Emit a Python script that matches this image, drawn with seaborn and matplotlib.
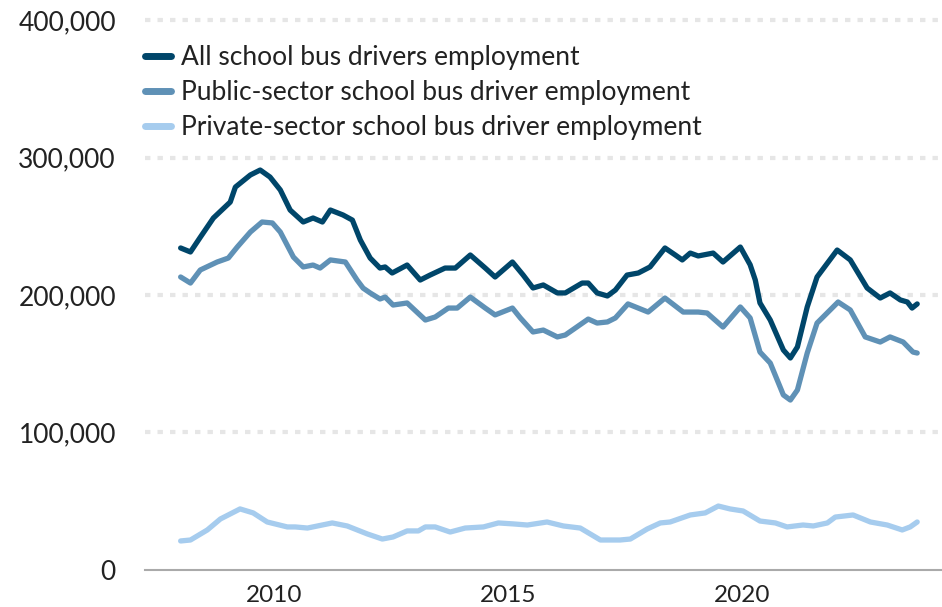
import pandas as pd
import numpy as np
import matplotlib
matplotlib.use('Agg')
import matplotlib.pyplot as plt
import seaborn as sns

# values (year as decimal, employment)
all_years = [2008.0, 2008.21, 2008.42, 2008.70, 2009.06, 2009.17, 2009.49, 2009.70, 2009.91, 2010.13,
             2010.34, 2010.62, 2010.83, 2011.03, 2011.20, 2011.47, 2011.67, 2011.84, 2012.05, 2012.26,
             2012.37, 2012.52, 2012.84, 2013.12, 2013.33, 2013.65, 2013.87, 2014.19, 2014.51, 2014.72,
             2015.09, 2015.32, 2015.53, 2015.75, 2016.05, 2016.22, 2016.58, 2016.71, 2016.90, 2017.12,
             2017.29, 2017.54, 2017.78, 2018.03, 2018.35, 2018.57, 2018.72, 2018.89, 2019.06, 2019.38,
             2019.59, 2019.96, 2020.17, 2020.28, 2020.38, 2020.60, 2020.88, 2021.03, 2021.18, 2021.39,
             2021.60, 2022.03, 2022.31, 2022.67, 2022.95, 2023.16, 2023.38, 2023.53, 2023.63, 2023.74]
all_vals = [234.2, 231.3, 242.0, 256.0, 267.6, 278.5, 287.3, 290.9, 285.8, 276.4,
            261.8, 253.1, 256.0, 253.1, 261.8, 258.2, 254.5, 240.0, 226.9, 219.6,
            220.4, 216.0, 221.8, 210.9, 214.5, 219.6, 219.6, 229.1, 219.6, 213.1,
            224.0, 214.5, 205.1, 207.3, 201.5, 201.5, 208.7, 208.7, 201.5, 199.3,
            203.6, 214.5, 216.0, 220.4, 234.2, 229.1, 225.5, 230.5, 228.4, 230.5,
            224.0, 234.9, 222.0, 210.9, 194.2, 181.8, 160.0, 154.2, 162.2, 191.3,
            213.1, 232.7, 225.5, 205.1, 197.8, 201.5, 196.4, 194.9, 190.5, 193.5]

public_years = [2008.0, 2008.21, 2008.42, 2008.78, 2009.02, 2009.21, 2009.49, 2009.74, 2009.96, 2010.13,
                2010.41, 2010.62, 2010.83, 2010.98, 2011.20, 2011.52, 2011.77, 2011.90, 2012.05, 2012.26,
                2012.37, 2012.54, 2012.84, 2013.23, 2013.44, 2013.72, 2013.91, 2014.19, 2014.51, 2014.72,
                2015.09, 2015.26, 2015.53, 2015.75, 2016.05, 2016.22, 2016.71, 2016.90, 2017.12, 2017.29,
                2017.56, 2017.99, 2018.35, 2018.74, 2019.06, 2019.25, 2019.59, 2019.96, 2020.17, 2020.38,
                2020.60, 2020.88, 2021.03, 2021.18, 2021.39, 2021.60, 2022.05, 2022.31, 2022.63, 2022.95,
                2023.16, 2023.44, 2023.65, 2023.74]
public_vals = [213.1, 208.7, 218.2, 224.0, 226.9, 234.9, 245.8, 253.1, 252.4, 245.8,
               227.6, 220.4, 221.8, 219.6, 225.5, 224.0, 210.9, 205.0, 201.5, 197.1,
               198.5, 192.7, 194.2, 181.8, 184.0, 190.5, 190.5, 198.5, 190.5, 185.5,
               190.5, 183.3, 173.1, 174.5, 169.5, 170.9, 182.5, 179.6, 180.4, 183.3,
               193.5, 187.6, 197.8, 187.6, 187.6, 186.9, 176.7, 191.3, 183.3, 158.5,
               150.5, 127.3, 123.6, 130.9, 157.8, 179.6, 194.9, 189.1, 169.5, 165.8,
               169.5, 165.8, 158.5, 157.8]

private_years = [2008.0, 2008.21, 2008.57, 2008.85, 2009.27, 2009.55, 2009.85, 2010.28, 2010.45, 2010.71,
                 2011.24, 2011.56, 2011.99, 2012.31, 2012.54, 2012.84, 2013.08, 2013.23, 2013.44, 2013.76,
                 2014.08, 2014.47, 2014.79, 2015.11, 2015.41, 2015.83, 2016.18, 2016.54, 2016.97, 2017.39,
                 2017.61, 2017.97, 2018.25, 2018.46, 2018.89, 2019.21, 2019.49, 2019.74, 2020.02, 2020.38,
                 2020.71, 2020.96, 2021.30, 2021.52, 2021.82, 2021.99, 2022.37, 2022.74, 2023.10, 2023.42,
                 2023.59, 2023.74]
private_vals = [21.1, 21.8, 29.1, 37.1, 44.4, 41.5, 34.9, 31.3, 31.3, 30.5,
                34.2, 32.0, 26.2, 22.5, 24.0, 28.4, 28.4, 31.3, 31.3, 27.6,
                30.5, 31.3, 34.2, 33.5, 32.7, 34.9, 32.0, 30.5, 21.8, 21.8,
                22.5, 29.8, 34.2, 34.9, 40.0, 41.5, 46.5, 44.4, 42.9, 35.6,
                34.2, 31.3, 32.7, 32.0, 34.2, 38.5, 40.0, 34.9, 32.7, 29.1,
                31.3, 34.9]

series_names = ['All school bus drivers employment',
                'Public-sector school bus driver employment',
                'Private-sector school bus driver employment']
colors = ['#00466a', '#5f91b6', '#a6ccee']

frames = []
for name, yrs, vals in zip(series_names,
                           [all_years, public_years, private_years],
                           [all_vals, public_vals, private_vals]):
    frames.append(pd.DataFrame({'year': yrs, 'value': np.array(vals) * 1000, 'series': name}))
df = pd.concat(frames, ignore_index=True)

sns.set_style('white')
plt.rcParams['font.family'] = ['Lato', 'DejaVu Sans']

fig = plt.figure(figsize=(9.42, 6.07), dpi=100)
ax = fig.add_axes([0.154, 0.061, 0.846, 0.906])

sns.lineplot(data=df, x='year', y='value', hue='series', hue_order=series_names,
             palette=colors, linewidth=3.8, ax=ax, legend=False, sort=True,
             solid_joinstyle='round', solid_capstyle='round')

ax.set_xlim(2007.24, 2024.27)
ax.set_ylim(0, 400000)
ax.set_yticks([0, 100000, 200000, 300000, 400000])
ax.set_yticklabels(['0', '100,000', '200,000', '300,000', '400,000'])
ax.set_xticks([2010, 2015, 2020])
ax.set_xticklabels(['2010', '2015', '2020'])
ax.set_xlabel('')
ax.set_ylabel('')

# dotted light gray gridlines
for v in [100000, 200000, 300000, 400000]:
    ax.axhline(v, color='#e6e6e6', linewidth=3, linestyle=(0, (1.3, 1.7)), zorder=0, clip_on=False)

for s in ['top', 'right', 'left']:
    ax.spines[s].set_visible(False)
ax.spines['bottom'].set_color('#aaaaaa')
ax.spines['bottom'].set_linewidth(1.5)

ax.tick_params(axis='y', length=0, pad=21, labelsize=19, labelcolor='#222222')
ax.tick_params(axis='x', length=8, width=1.5, color='#aaaaaa', pad=3, labelsize=17.5,
               labelcolor='#222222', direction='out')

handles = [plt.Line2D([0], [0], color=c, linewidth=5) for c in colors]
ax.legend(handles, series_names, loc='upper left', bbox_to_anchor=(0.0, 0.955),
          frameon=False, fontsize=19, handlelength=1.0, handletextpad=0.35,
          labelspacing=0.38, borderpad=0, borderaxespad=0, labelcolor='#222222')

plt.savefig('out.png', dpi=100)
